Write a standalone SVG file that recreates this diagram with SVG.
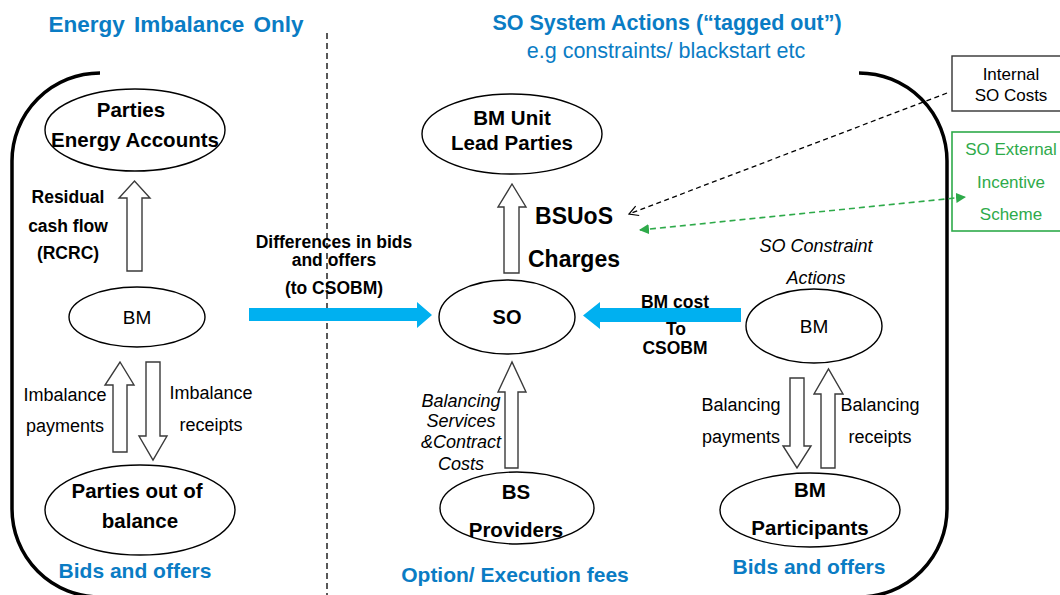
<svg xmlns="http://www.w3.org/2000/svg" width="1060" height="595" viewBox="0 0 1060 595">
<style>
text{font-family:"Liberation Sans",Arial,sans-serif;fill:#000}
.t{font-size:20.5px;font-weight:bold;text-anchor:middle}
.lbl{font-size:18px;text-anchor:middle}
.it{font-size:18px;font-style:italic;text-anchor:middle}
.bl{font-size:17.5px;font-weight:bold;text-anchor:middle}
.blue{fill:#0A7CC4;font-weight:bold;font-size:21px;text-anchor:middle}
.ell{fill:#fff;stroke:#000;stroke-width:1.4}
.blk{fill:#fff;stroke:#3a3a3a;stroke-width:1.4}
.cyan{fill:#00B0F0}
.grn{fill:#2EAA4A;font-size:17px;text-anchor:middle}
</style>
<defs>
<marker id="openArrow" markerWidth="12" markerHeight="12" refX="10" refY="6" orient="auto" markerUnits="userSpaceOnUse">
<path d="M1,1 L10,6 L1,11" fill="none" stroke="#000" stroke-width="1.2"/>
</marker>
<marker id="gEnd" markerWidth="10" markerHeight="10" refX="9" refY="5" orient="auto" markerUnits="userSpaceOnUse">
<path d="M0,0 L10,5 L0,10 Z" fill="#2EAA4A"/>
</marker>
<marker id="gStart" markerWidth="10" markerHeight="10" refX="1" refY="5" orient="auto" markerUnits="userSpaceOnUse">
<path d="M10,0 L0,5 L10,10 Z" fill="#2EAA4A"/>
</marker>
</defs>
<rect width="1060" height="595" fill="#fff"/>

<g id="titles">
<text x="176" y="32" style="font-size:22.5px;font-weight:bold;fill:#0A7CC4;text-anchor:middle;word-spacing:3px">Energy Imbalance Only</text>
<text x="667" y="30" style="font-size:21.5px;font-weight:bold;fill:#0A7CC4;text-anchor:middle">SO System Actions (“tagged out”)</text>
<text x="666" y="58" style="font-size:21.5px;fill:#0A7CC4;text-anchor:middle">e.g constraints/ blackstart etc</text>
</g>

<g id="frame">
<path d="M100,73 A88,88 0 0 0 12,161 L12,509 A88,88 0 0 0 100,597 L859,597 A88,88 0 0 0 947,509 L947,161 A88,88 0 0 0 859,73" fill="none" stroke="#000" stroke-width="3.5"/>
<line x1="327" y1="33" x2="327" y2="595" stroke="#222" stroke-width="1.5" stroke-dasharray="6,4"/>
</g>

<g id="connectors">
<polygon class="blk" points="127,271 127,198 119,198 134.5,181 150,198 142,198 142,271"/>
<polygon class="blk" points="113,452 113,385 105,385 120,362 134,385 127,385 127,452"/>
<polygon class="blk" points="146,362 160,362 160,436 167,436 153,460 139,436 146,436"/>
<polygon class="blk" points="504,273 504,207 498,207 512,184 526,207 519,207 519,273"/>
<polygon class="blk" points="505,468 505,392 498,392 512,362 526,392 518,392 518,468"/>
<polygon class="blk" points="790,378 804,378 804,446 811,446 797,468 783,446 790,446"/>
<polygon class="blk" points="821,468 821,394 814,394 828.5,369 843,394 835,394 835,468"/>
<polygon class="cyan" points="249,308 417,308 417,302 432,315 417,328 417,321 249,321"/>
<polygon class="cyan" points="741,308 600,308 600,302 583,315.5 600,329 600,322 741,322"/>
<line x1="947" y1="93" x2="629" y2="214" stroke="#000" stroke-width="1.3" stroke-dasharray="5,3.5" marker-end="url(#openArrow)"/>
<line x1="640" y1="230" x2="965" y2="197" stroke="#2EAA4A" stroke-width="1.6" stroke-dasharray="6,4" marker-start="url(#gStart)" marker-end="url(#gEnd)"/>
</g>

<g id="edge-labels">
<text class="bl" x="68" y="203">Residual</text>
<text class="bl" x="68" y="232">cash flow</text>
<text class="bl" x="68" y="259">(RCRC)</text>
<text class="lbl" x="65" y="401">Imbalance</text>
<text class="lbl" x="65" y="432">payments</text>
<text class="lbl" x="211" y="399">Imbalance</text>
<text class="lbl" x="211" y="431">receipts</text>
<text class="bl" x="334" y="248">Differences in bids</text>
<text class="bl" x="334" y="266">and offers</text>
<text class="bl" x="334" y="294">(to CSOBM)</text>
<text x="574" y="224" style="font-size:23px;font-weight:bold;text-anchor:middle">BSUoS</text>
<text x="574" y="267" style="font-size:23px;font-weight:bold;text-anchor:middle">Charges</text>
<text class="bl" x="675" y="308">BM cost</text>
<text class="bl" x="676" y="335">To</text>
<text class="bl" x="675" y="354">CSOBM</text>
<text class="it" x="816" y="252">SO Constraint</text>
<text class="it" x="816" y="284">Actions</text>
<text class="it" x="461" y="407">Balancing</text>
<text class="it" x="461" y="427">Services</text>
<text class="it" x="461" y="448">&amp;Contract</text>
<text class="it" x="461" y="470">Costs</text>
<text class="lbl" x="741" y="411">Balancing</text>
<text class="lbl" x="741" y="443">payments</text>
<text class="lbl" x="880" y="411">Balancing</text>
<text class="lbl" x="880" y="443">receipts</text>
<text class="blue" x="135" y="578">Bids and offers</text>
<text class="blue" x="515" y="582">Option/ Execution fees</text>
<text class="blue" x="809" y="574">Bids and offers</text>
</g>

<g id="node-parties-energy">
<ellipse class="ell" cx="135" cy="130" rx="90" ry="41"/>
<text class="t" x="131" y="117">Parties</text>
<text class="t" x="135" y="147">Energy Accounts</text>
</g>
<g id="node-bm-left">
<ellipse class="ell" cx="137" cy="317" rx="68" ry="30"/>
<text x="137" y="324" style="font-size:19px;text-anchor:middle">BM</text>
</g>
<g id="node-parties-out">
<ellipse class="ell" cx="140" cy="510" rx="95" ry="45"/>
<text class="t" x="137" y="498">Parties out of</text>
<text class="t" x="140" y="528">balance</text>
</g>
<g id="node-bm-unit">
<ellipse class="ell" cx="512" cy="134" rx="90" ry="40"/>
<text class="t" x="512" y="125">BM Unit</text>
<text class="t" x="512" y="150">Lead Parties</text>
</g>
<g id="node-so">
<ellipse class="ell" cx="507" cy="317" rx="68" ry="37"/>
<text class="t" x="507" y="324" style="font-size:20px">SO</text>
</g>
<g id="node-bm-right">
<ellipse class="ell" cx="814" cy="326" rx="68" ry="37"/>
<text x="814" y="333" style="font-size:19px;text-anchor:middle">BM</text>
</g>
<g id="node-bs-providers">
<ellipse class="ell" cx="517" cy="508" rx="77" ry="36"/>
<text class="t" x="516" y="499">BS</text>
<text class="t" x="516" y="537">Providers</text>
</g>
<g id="node-bm-participants">
<ellipse class="ell" cx="810" cy="510" rx="90" ry="37"/>
<text class="t" x="810" y="497">BM</text>
<text class="t" x="810" y="535">Participants</text>
</g>
<g id="node-internal-so-costs">
<rect x="952" y="56" width="112" height="55" fill="#fff" stroke="#333" stroke-width="1.4"/>
<text x="1011" y="80" style="font-size:17px;text-anchor:middle">Internal</text>
<text x="1011" y="101" style="font-size:17px;text-anchor:middle">SO Costs</text>
</g>
<g id="node-so-external">
<rect x="952" y="132" width="112" height="99" fill="none" stroke="#2EAA4A" stroke-width="1.6"/>
<text class="grn" x="1011" y="155">SO External</text>
<text class="grn" x="1011" y="188">Incentive</text>
<text class="grn" x="1011" y="220">Scheme</text>
</g>
</svg>
